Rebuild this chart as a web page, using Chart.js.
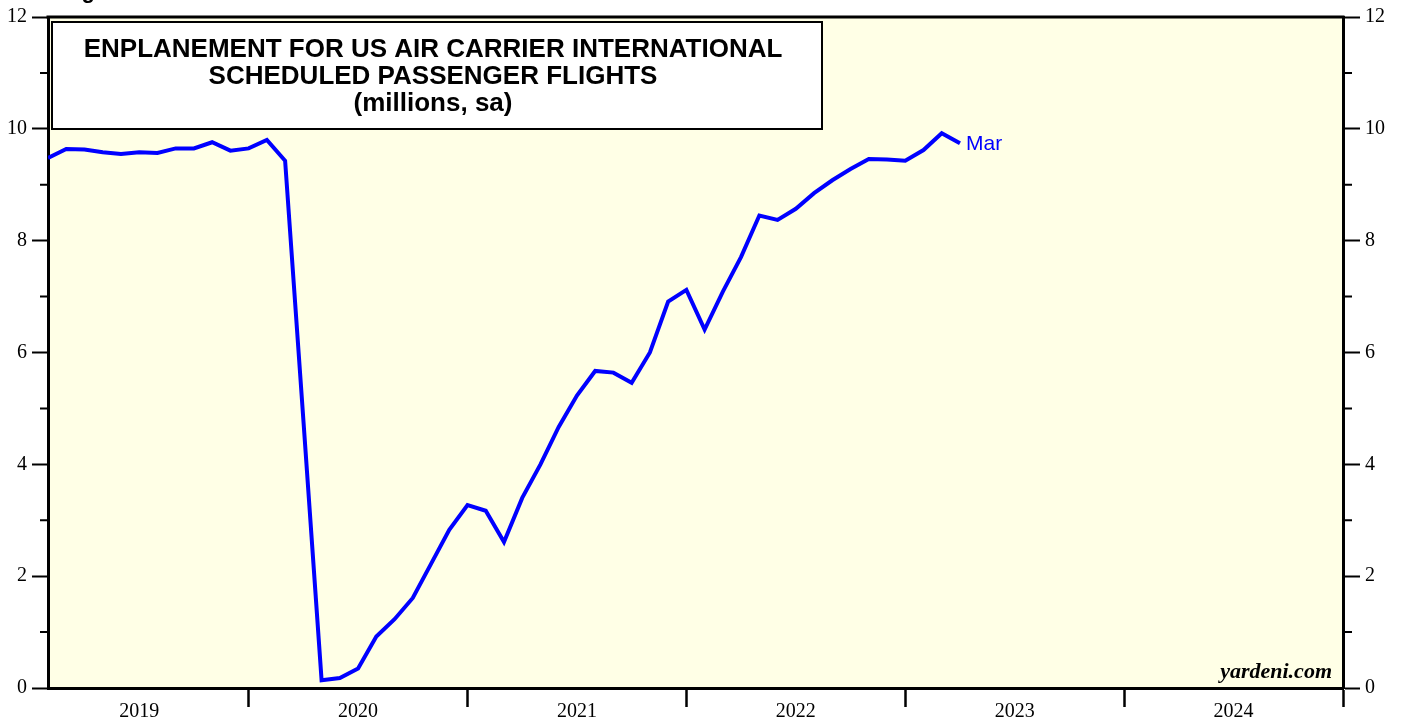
<!DOCTYPE html>
<html>
<head>
<meta charset="utf-8">
<script src="https://cdn.jsdelivr.net/npm/chart.js@4.4.1/dist/chart.umd.min.js"></script>
<style>
  html, body { margin: 0; padding: 0; background: #fff; }
  #wrap { width: 1403px; height: 719px; }
</style>
</head>
<body>
<div id="wrap"><canvas id="chartEnplane" width="1403" height="719"></canvas></div>
<script>
// monthly data, Jan 2019 .. Mar 2023 (millions, sa)
const monthLabels = [
  'Jan 2019','Feb 2019','Mar 2019','Apr 2019','May 2019','Jun 2019','Jul 2019','Aug 2019','Sep 2019','Oct 2019','Nov 2019','Dec 2019',
  'Jan 2020','Feb 2020','Mar 2020','Apr 2020','May 2020','Jun 2020','Jul 2020','Aug 2020','Sep 2020','Oct 2020','Nov 2020','Dec 2020',
  'Jan 2021','Feb 2021','Mar 2021','Apr 2021','May 2021','Jun 2021','Jul 2021','Aug 2021','Sep 2021','Oct 2021','Nov 2021','Dec 2021',
  'Jan 2022','Feb 2022','Mar 2022','Apr 2022','May 2022','Jun 2022','Jul 2022','Aug 2022','Sep 2022','Oct 2022','Nov 2022','Dec 2022',
  'Jan 2023','Feb 2023','Mar 2023'
];
const enplanements = [
  9.48, 9.64, 9.63, 9.58, 9.55, 9.58, 9.57, 9.65, 9.65, 9.76, 9.61, 9.65,
  9.80, 9.43, 4.80, 0.14, 0.18, 0.35, 0.92, 1.23, 1.61, 2.22, 2.83, 3.27,
  3.17, 2.61, 3.40, 4.00, 4.67, 5.23, 5.67, 5.64, 5.46, 6.00, 6.91, 7.12,
  6.41, 7.09, 7.71, 8.45, 8.37, 8.57, 8.85, 9.08, 9.28, 9.46, 9.45, 9.43,
  9.62, 9.92, 9.74
];
const yearLabels = ['2019', '2020', '2021', '2022', '2023', '2024'];
const yTickLabels = [0, 2, 4, 6, 8, 10, 12];
const titleLines = [
  'ENPLANEMENT FOR US AIR CARRIER INTERNATIONAL',
  'SCHEDULED PASSENGER FLIGHTS',
  '(millions, sa)'
];

// x axis is months since Jan 1 2019; each month is plotted at its end
const points = enplanements.map((v, i) => ({ x: i + 1, y: v }));

const serif = '"Liberation Serif", "Times New Roman", serif';
const sans = '"Liberation Sans", Arial, sans-serif';

const decor = {
  id: 'decor',
  beforeDraw(chart) {
    const { ctx, chartArea: a } = chart;
    ctx.save();
    ctx.fillStyle = '#FFFFE6';
    ctx.fillRect(a.left, a.top, a.right - a.left, a.bottom - a.top);
    ctx.restore();
  },
  beforeDatasetsDraw(chart) {
    const { ctx } = chart;
    ctx.save();
    ctx.fillStyle = '#fff';
    ctx.fillRect(52, 22, 770, 107);
    ctx.strokeStyle = '#000';
    ctx.lineWidth = 2;
    ctx.strokeRect(52, 22, 770, 107);
    ctx.fillStyle = '#000';
    ctx.font = 'bold 26px ' + sans;
    ctx.textAlign = 'center';
    ctx.textBaseline = 'alphabetic';
    titleLines.forEach((t, i) => ctx.fillText(t, 433, 57 + i * 27));
    ctx.restore();
  },
  afterDraw(chart) {
    const { ctx, chartArea: a, scales } = chart;
    ctx.save();
    // top frame line
    ctx.strokeStyle = '#000';
    ctx.lineWidth = 3;
    ctx.beginPath();
    ctx.moveTo(a.left - 1.5, a.top);
    ctx.lineTo(a.right + 1.5, a.top);
    ctx.stroke();
    // minor ticks on both value axes
    ctx.lineWidth = 2;
    for (let v = 1; v < 12; v += 2) {
      const y = scales.y.getPixelForValue(v);
      ctx.beginPath();
      ctx.moveTo(a.left - 8, y);
      ctx.lineTo(a.left, y);
      ctx.moveTo(a.right, y);
      ctx.lineTo(a.right + 9, y);
      ctx.stroke();
    }
    // last month label
    const meta = chart.getDatasetMeta(0);
    const last = meta.data[meta.data.length - 1];
    ctx.fillStyle = '#0000FF';
    ctx.font = '21px ' + sans;
    ctx.textAlign = 'left';
    ctx.textBaseline = 'middle';
    ctx.fillText(monthLabels[monthLabels.length - 1].slice(0, 3), last.x + 6, last.y + 1);
    // source
    ctx.fillStyle = '#000';
    ctx.font = 'italic bold 22px ' + serif;
    ctx.textAlign = 'right';
    ctx.textBaseline = 'alphabetic';
    ctx.fillText('yardeni.com', a.right - 11, a.bottom - 10);
    // figure caption, cut off by the top edge
    ctx.font = 'bold 22px ' + sans;
    ctx.textAlign = 'left';
    ctx.fillText('Figure 3.', 62, -2);
    ctx.restore();
  }
};

new Chart(document.getElementById('chartEnplane').getContext('2d'), {
  type: 'line',
  data: {
    datasets: [{
      label: 'Enplanements',
      data: points,
      borderColor: '#0000FF',
      borderWidth: 4,
      pointRadius: 0,
      tension: 0,
      fill: false,
      yAxisID: 'y'
    }]
  },
  options: {
    responsive: false,
    animation: false,
    events: [],
    layout: { padding: { top: 16, left: 0, right: 0, bottom: 0 } },
    plugins: {
      legend: { display: false },
      tooltip: { enabled: false }
    },
    scales: {
      x: {
        type: 'linear',
        position: 'bottom',
        min: 1,
        max: 72,
        afterBuildTicks(scale) {
          const t = [];
          for (let v = 6; v <= 72; v += 6) t.push({ value: v });
          scale.ticks = t;
        },
        afterFit(scale) { scale.height = 31; },
        ticks: {
          autoSkip: false,
          maxRotation: 0,
          padding: -7,
          color: '#000',
          font: { family: serif, size: 20 },
          callback: (v) => (v % 12 === 6 ? yearLabels[(v - 6) / 12] : '')
        },
        grid: {
          drawOnChartArea: false,
          drawTicks: true,
          tickLength: 19,
          tickWidth: 2.5,
          tickColor: (c) => (c.tick && c.tick.value % 12 === 0 ? '#000' : 'rgba(0,0,0,0)')
        },
        border: { display: true, color: '#000', width: 3 }
      },
      y: {
        type: 'linear',
        position: 'left',
        min: 0,
        max: 12,
        afterFit(scale) { scale.width = 48; },
        ticks: {
          stepSize: 1,
          padding: 5,
          color: '#000',
          font: { family: serif, size: 20 },
          callback: (v) => (yTickLabels.includes(v) ? String(v) : '')
        },
        grid: {
          drawOnChartArea: false,
          tickLength: 16,
          tickWidth: 2,
          tickColor: (c) => (c.tick && yTickLabels.includes(c.tick.value) ? '#000' : 'rgba(0,0,0,0)')
        },
        border: { display: true, color: '#000', width: 3 }
      },
      y2: {
        type: 'linear',
        position: 'right',
        min: 0,
        max: 12,
        afterFit(scale) { scale.width = 60; },
        ticks: {
          stepSize: 1,
          padding: 5,
          color: '#000',
          font: { family: serif, size: 20 },
          callback: (v) => (yTickLabels.includes(v) ? String(v) : '')
        },
        grid: {
          drawOnChartArea: false,
          tickLength: 17,
          tickWidth: 2,
          tickColor: (c) => (c.tick && yTickLabels.includes(c.tick.value) ? '#000' : 'rgba(0,0,0,0)')
        },
        border: { display: true, color: '#000', width: 3 }
      }
    }
  },
  plugins: [decor]
});
</script>
</body>
</html>
